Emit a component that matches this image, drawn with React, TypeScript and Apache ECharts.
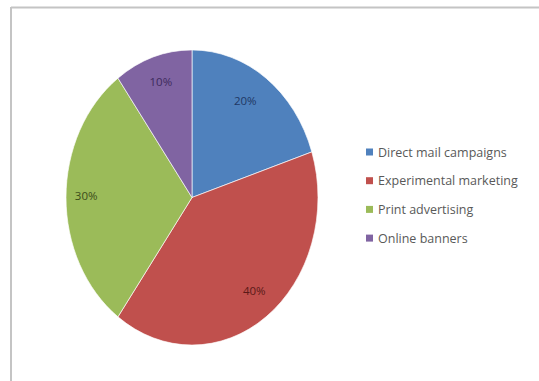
import React, { useEffect, useRef } from "react";
import * as echarts from "echarts";

const categories = ["Direct mail campaigns", "Experimental marketing", "Print advertising", "Online banners"];
const shares = [20, 40, 30, 10];
const sliceColors = ["#4f81bd", "#c0504d", "#9bbb59", "#8064a2"];
const labelColors = ["#1f3864", "#5a1a18", "#3b4d1a", "#3d2a5c"];

export default function App() {
  const ref = useRef<HTMLDivElement>(null);
  useEffect(() => {
    if (!ref.current) return;
    const chart = echarts.init(ref.current, null, { renderer: "svg" });
    const total = shares.reduce((a, b) => a + b, 0);
    const cx = 192;
    const cy = 197.5;
    const rx = 126;
    const ry = 147.5;

    const series = categories.map((name, idx) => ({
      type: "custom",
      name,
      coordinateSystem: "none",
      data: [[shares[idx]]],
      itemStyle: { color: sliceColors[idx] },
      renderItem: (params: any, api: any) => {
        const value = api.value(0);
        let before = 0;
        for (let k = 0; k < idx; k++) before += shares[k];
        const start = -Math.PI / 2 + (before / total) * Math.PI * 2;
        const end = start + (value / total) * Math.PI * 2;
        const mid = (start + end) / 2;
        const f = 0.8;
        const lx = cx + Math.cos(mid) * rx * f;
        const ly = cy + Math.sin(mid) * ry * f;
        return {
          type: "group",
          children: [
            {
              type: "sector",
              x: cx,
              y: cy,
              scaleY: ry / rx,
              shape: { cx: 0, cy: 0, r0: 0, r: rx, startAngle: start, endAngle: end, clockwise: true },
              style: { fill: sliceColors[idx], stroke: "#ffffff", lineWidth: 0.6 },
            },
            {
              type: "text",
              x: lx + (idx === 0 ? -6 : idx === 2 ? -5 : idx === 1 ? 3 : 0),
              y: ly + (idx === 3 ? -4 : -2),
              style: {
                text: Math.round((value / total) * 100) + "%",
                fill: labelColors[idx],
                font: "11.5px 'Open Sans', sans-serif",
                align: "center",
                verticalAlign: "middle",
              },
            },
          ],
        };
      },
    }));

    chart.setOption({
      animation: false,
      backgroundColor: "#ffffff",
      legend: {
        orient: "vertical",
        left: 361,
        top: 140,
        icon: "rect",
        itemWidth: 7,
        itemHeight: 7,
        itemGap: 14.7,
        textStyle: { color: "#595959", fontSize: 12.5, fontFamily: "'Open Sans', sans-serif", lineHeight: 14 },
        data: categories,
      },
      graphic: [
        { type: "line", shape: { x1: 11, y1: 7.5, x2: 539, y2: 7.5 }, style: { stroke: "#c4c4c4", lineWidth: 2 } },
        { type: "line", shape: { x1: 11, y1: 7, x2: 11, y2: 381 }, style: { stroke: "#c4c4c4", lineWidth: 2 } },
      ],
      series,
    });
    return () => chart.dispose();
  }, []);
  return <div ref={ref} style={{ position: "absolute", left: 0, top: 0, width: 539, height: 381 }} />;
}
